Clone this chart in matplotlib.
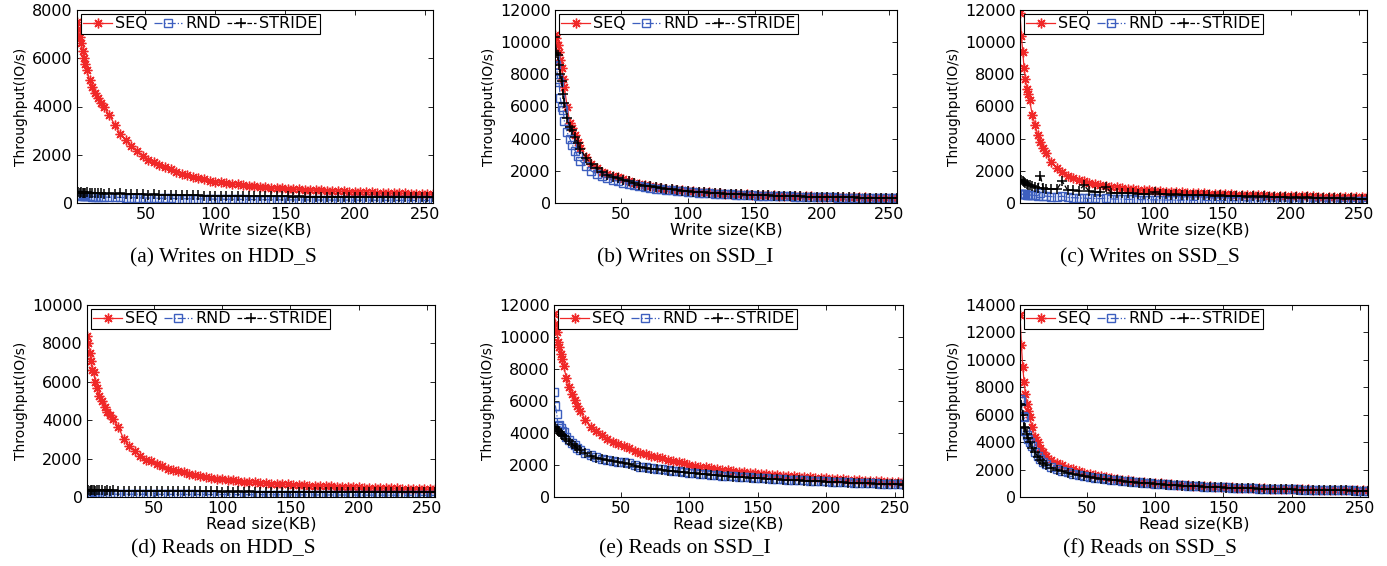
import matplotlib.pyplot as plt, numpy as np

SIZES = list(range(1, 9)) + list(range(10, 21, 2)) + list(range(24, 257, 4))

# (a) writes on HDD_S
A_SEQ = [7520, 7200, 6900, 6620, 6280, 6000, 5750, 5500,
         5100, 4800, 4550, 4350, 4150, 4000,
         3650, 3250, 2850, 2600, 2380, 2150, 1950, 1800, 1700, 1580,
         1480, 1390, 1300, 1220, 1140, 1080, 1030, 980, 920, 880,
         860, 830, 800, 770, 740, 720, 700, 680, 660, 640,
         620, 610, 595, 580, 565, 555, 545, 535, 520, 510,
         500, 490, 480, 470, 460, 452, 445, 438, 430, 422,
         415, 408, 400, 395, 388, 380, 375, 370, 365]
A_RND = [340, 325, 315, 305, 298, 292, 287, 282,
         272, 266, 261, 256, 251, 246,
         240, 235, 230, 225, 220, 215, 210, 205, 200, 196,
         192, 188, 184, 180, 176, 172, 169, 166, 163, 160,
         157, 154, 151, 148, 146, 144, 142, 140, 138, 136,
         134, 132, 130, 128, 127, 126, 125, 124, 123, 122,
         121, 120, 119, 118, 117, 116, 115, 114, 113, 112,
         111, 110, 109, 108, 107, 106, 105, 104, 103]
A_STRIDE = [420, 450, 400, 440, 410, 430, 400, 450,
            420, 410, 430, 400, 420, 390,
            410, 380, 400, 370, 390, 360, 370, 350, 360, 340,
            350, 330, 340, 320, 330, 315, 320, 305, 310, 300,
            305, 295, 300, 290, 295, 285, 290, 280, 285, 275,
            280, 270, 275, 268, 272, 265, 268, 262, 265, 258,
            262, 255, 258, 252, 255, 250, 252, 246, 250, 244,
            247, 241, 244, 238, 241, 236, 238, 233, 235]

# (b) writes on SSD_I
B_SEQ = [10450, 10250, 9800, 9400, 8900, 8400, 7700, 7200,
         6000, 5000, 4650, 4250, 3800, 3400,
         2850, 2450, 2200, 1950, 1800, 1680, 1600, 1480, 1380, 1250,
         1180, 1110, 1060, 1000, 950, 900, 860, 820, 790, 760,
         730, 700, 680, 655, 630, 610, 590, 575, 560, 545,
         530, 515, 500, 490, 480, 470, 460, 450, 440, 430,
         420, 412, 405, 398, 390, 383, 376, 370, 364, 358,
         352, 347, 342, 337, 332, 327, 322, 318, 314]
B_RND = [9000, 8600, 7700, 7500, 6500, 6000, 5800, 5100,
         4400, 4000, 3600, 3250, 2900, 2600,
         2300, 2000, 1800, 1650, 1550, 1450, 1350, 1270, 1200, 1130,
         1060, 1000, 950, 900, 860, 820, 780, 750, 720, 690,
         665, 640, 620, 600, 580, 560, 545, 530, 515, 500,
         488, 476, 464, 453, 443, 433, 423, 414, 405, 396,
         388, 380, 373, 366, 359, 352, 346, 340, 334, 328,
         323, 318, 313, 308, 303, 298, 294, 290, 286]
B_STRIDE = [10300, 9300, 9200, 8600, 8000, 7600, 6800, 6200,
            5300, 4750, 4550, 4100, 3700, 3350,
            2800, 2400, 2150, 1900, 1750, 1640, 1550, 1440, 1340, 1220,
            1150, 1080, 1030, 975, 925, 880, 840, 800, 770, 740,
            710, 685, 662, 640, 615, 596, 577, 562, 548, 533,
            518, 504, 490, 480, 470, 460, 450, 440, 431, 421,
            412, 404, 397, 390, 382, 375, 369, 363, 357, 351,
            345, 340, 335, 330, 325, 320, 316, 312, 308]

# (c) writes on SSD_S
C_SEQ = [11800, 10400, 9400, 8400, 7700, 7100, 6800, 6400,
         5500, 4850, 4250, 3800, 3450, 3100,
         2550, 2200, 1900, 1700, 1560, 1450, 1350, 1270, 1200, 1130,
         1070, 1020, 975, 935, 898, 865, 835, 808, 783, 760,
         740, 715, 695, 675, 655, 638, 622, 606, 592, 578,
         565, 553, 541, 530, 519, 509, 499, 490, 481, 472,
         464, 456, 448, 441, 434, 427, 420, 414, 408, 402,
         396, 391, 386, 381, 376, 371, 366, 362, 358]
C_RND = [560, 550, 545, 540, 530, 520, 510, 500,
         480, 470, 455, 600, 440, 425,
         400, 380, 420, 345, 330, 315, 300, 290, 280, 270,
         300, 252, 244, 236, 228, 221, 214, 208, 202, 196,
         191, 186, 181, 177, 173, 169, 165, 161, 158, 155,
         152, 149, 146, 143, 141, 139, 137, 135, 133, 131,
         129, 127, 125, 123, 121, 119, 117, 115, 113, 111,
         110, 109, 108, 107, 106, 105, 104, 103, 102]
C_STRIDE = [1450, 1400, 1350, 1300, 1250, 1200, 1150, 1120,
            1060, 1010, 960, 1700, 940, 900,
            870, 840, 1350, 800, 780, 760, 1100, 720, 700, 680,
            1000, 650, 640, 620, 610, 600, 590, 575, 565, 700,
            540, 560, 520, 540, 500, 520, 480, 500, 470, 480,
            450, 470, 430, 450, 420, 440, 400, 420, 390, 410,
            370, 400, 350, 380, 340, 360, 320, 350, 310, 330,
            290, 320, 280, 300, 260, 290, 250, 270, 240]

# (d) reads on HDD_S
D_SEQ = [8400, 8000, 7500, 7100, 6600, 6500, 6000, 5700,
         5250, 5000, 4700, 4450, 4250, 4050,
         3650, 3000, 2650, 2400, 2150, 1950, 1850, 1700, 1600, 1480,
         1400, 1330, 1280, 1200, 1140, 1100, 1050, 1000, 960, 920,
         890, 860, 830, 800, 780, 760, 740, 720, 700, 690,
         670, 655, 640, 625, 610, 598, 585, 573, 562, 551,
         540, 530, 520, 510, 500, 492, 484, 476, 468, 460,
         452, 445, 438, 431, 424, 418, 412, 406, 400]
D_RND = [200, 170, 160, 155, 155, 150, 150, 150,
         148, 148, 147, 146, 146, 145,
         145, 144, 143, 142, 141, 140, 139, 138, 137, 136,
         135, 134, 133, 132, 131, 130, 129, 128, 127, 126,
         125, 124, 123, 122, 121, 120, 119, 118, 117, 116,
         115, 114, 113, 112, 111, 110, 109, 108, 107, 106,
         105, 104, 103, 102, 101, 100, 99, 98, 97, 96,
         95, 94, 93, 92, 91, 90, 89, 88, 87]
D_STRIDE = [340, 360, 330, 350, 340, 355, 335, 350,
            340, 350, 335, 345, 330, 340,
            335, 325, 335, 320, 330, 315, 325, 310, 320, 305,
            315, 300, 310, 295, 305, 290, 300, 288, 296, 285,
            292, 282, 290, 280, 287, 277, 284, 275, 281, 272,
            279, 270, 276, 268, 274, 266, 272, 264, 270, 262,
            268, 260, 266, 258, 264, 256, 262, 255, 260, 253,
            258, 251, 256, 250, 254, 248, 252, 246, 250]

# (e) reads on SSD_I
E_SEQ = [11450, 10800, 10300, 9700, 9350, 8950, 8600, 8200,
         7450, 6900, 6450, 6050, 5700, 5400,
         4800, 4400, 4100, 3850, 3650, 3450, 3300, 3180, 3060, 2900,
         2780, 2680, 2590, 2500, 2420, 2340, 2260, 2190, 2120, 2020,
         1960, 1900, 1850, 1800, 1750, 1710, 1670, 1630, 1590, 1550,
         1515, 1480, 1450, 1420, 1390, 1360, 1335, 1310, 1285, 1260,
         1240, 1220, 1200, 1180, 1160, 1140, 1120, 1100, 1080, 1060,
         1040, 1020, 1000, 985, 970, 955, 940, 925, 910]
E_RND = [6550, 5700, 5200, 4450, 4500, 4300, 4150, 4050,
         3750, 3550, 3370, 3220, 3080, 2950,
         2750, 2600, 2490, 2400, 2320, 2260, 2210, 2160, 2110, 1980,
         1900, 1850, 1800, 1760, 1720, 1680, 1640, 1600, 1560, 1520,
         1490, 1460, 1430, 1400, 1370, 1340, 1310, 1290, 1270, 1250,
         1230, 1210, 1190, 1170, 1150, 1130, 1110, 1090, 1070, 1050,
         1035, 1020, 1005, 990, 975, 960, 945, 930, 915, 900,
         888, 876, 864, 852, 840, 828, 816, 804, 792]
E_STRIDE = [4400, 4350, 4250, 4150, 4050, 3950, 3880, 3800,
            3650, 3480, 3330, 3180, 3040, 2920,
            2720, 2570, 2460, 2370, 2290, 2230, 2180, 2130, 2080, 1940,
            1870, 1820, 1775, 1735, 1695, 1655, 1615, 1575, 1540, 1500,
            1470, 1440, 1410, 1380, 1350, 1320, 1295, 1270, 1250, 1230,
            1210, 1190, 1170, 1150, 1130, 1110, 1090, 1072, 1054, 1036,
            1020, 1005, 990, 975, 960, 945, 930, 915, 900, 886,
            873, 860, 848, 836, 824, 812, 800, 788, 776]

# (f) reads on SSD_S
F_SEQ = [13300, 11100, 9500, 8400, 7500, 6800, 6300, 5800,
         5100, 4400, 4000, 3550, 3250, 3000,
         2700, 2450, 2300, 2150, 2020, 1900, 1780, 1680, 1600, 1520,
         1450, 1390, 1330, 1270, 1220, 1170, 1130, 1090, 1050, 1020,
         985, 955, 925, 900, 875, 850, 830, 810, 790, 770,
         752, 735, 720, 705, 690, 676, 663, 650, 638, 626,
         615, 604, 594, 584, 575, 566, 557, 549, 541, 533,
         526, 519, 512, 505, 499, 493, 487, 481, 475]
F_RND = [7150, 7000, 5900, 5800, 4800, 4500, 4200, 4000,
         3700, 3300, 3000, 2750, 2550, 2400,
         2200, 2050, 1920, 1800, 1700, 1620, 1550, 1480, 1420, 1370,
         1320, 1270, 1230, 1190, 1150, 1110, 1075, 1040, 1010, 980,
         950, 922, 895, 870, 846, 823, 802, 782, 763, 745,
         728, 712, 697, 683, 669, 656, 643, 631, 619, 608,
         597, 587, 577, 568, 559, 550, 542, 534, 526, 518,
         511, 504, 497, 490, 484, 478, 472, 466, 460]
F_STRIDE = [6800, 6700, 6000, 5100, 5000, 4600, 4300, 4000,
            3600, 3250, 2950, 2700, 2500, 2350,
            2150, 2000, 1880, 1770, 1670, 1590, 1520, 1455, 1395, 1345,
            1295, 1250, 1210, 1170, 1130, 1092, 1057, 1024, 994, 965,
            937, 910, 884, 859, 836, 814, 793, 773, 754, 736,
            719, 703, 688, 674, 660, 647, 635, 623, 611, 600,
            589, 579, 569, 560, 551, 542, 534, 526, 518, 511,
            504, 497, 490, 484, 478, 472, 466, 460, 454]

CAPTIONS = ["(a) Writes on HDD_S", "(b) Writes on SSD_I", "(c) Writes on SSD_S",
            "(d) Reads on HDD_S", "(e) Reads on SSD_I", "(f) Reads on SSD_S"]
XLABELS = ["Write size(KB)"] * 3 + ["Read size(KB)"] * 3
YTOPS = [8000, 12000, 12000, 10000, 12000, 14000]
SERIES = [(A_SEQ, A_RND, A_STRIDE), (B_SEQ, B_RND, B_STRIDE), (C_SEQ, C_RND, C_STRIDE),
          (D_SEQ, D_RND, D_STRIDE), (E_SEQ, E_RND, E_STRIDE), (F_SEQ, F_RND, F_STRIDE)]

# layout in pixels: left, right, top, bottom of each axes; caption centre
W, H = 1387, 566
BOXES = [(77, 433, 10, 203), (555, 897, 10, 203), (1020, 1367, 10, 203),
         (87, 435, 305, 497), (554, 903, 305, 497), (1020, 1368, 305, 497)]
CAP_POS = [(223, 258), (685, 258), (1150, 258), (223, 549), (685, 549), (1150, 549)]

RED, BLUE = '#f02828', '#3d5fbf'


def panel(fig, box, cap_pos, caption, xlabel, ytop, seq, rnd, stride):
    l, r, t, b = box
    ax = fig.add_axes([l / W, 1 - b / H, (r - l) / W, (b - t) / H])
    ax.plot(SIZES, seq, color=RED, ls='-', lw=0.9, marker=(8, 2, 0), ms=7, mew=1.0, label='SEQ')
    ax.plot(SIZES, rnd, color=BLUE, ls='-.', lw=0.9, marker='s', ms=6, mfc='none', mew=1.0, label='RND')
    ax.plot(SIZES, stride, color='black', ls='--', lw=0.9, marker='+', ms=7.5, mew=1.1, label='STRIDE')
    ax.set_xlim(1, 256)
    ax.set_ylim(0, ytop)
    ax.set_xticks([50, 100, 150, 200, 250])
    ax.set_yticks(np.arange(0, ytop + 1, 2000))
    ax.tick_params(direction='in', top=True, right=True, length=3.5, width=0.6, labelsize=11.5, pad=3)
    for s in ax.spines.values():
        s.set_linewidth(0.8)
    ax.set_xlabel(xlabel, fontsize=11.5, labelpad=0)
    ax.set_ylabel("Throughput(IO/s)", fontsize=10, labelpad=3)
    leg = ax.legend(loc='upper left', ncol=3, fontsize=11.5, handlelength=1.8, handletextpad=0.2,
                    columnspacing=0.35, borderpad=0.15, borderaxespad=0.25, fancybox=False,
                    edgecolor='black', framealpha=1, numpoints=1)
    leg.get_frame().set_linewidth(0.8)
    fig.text(cap_pos[0] / W, 1 - cap_pos[1] / H, caption, ha='center', va='center',
             family='Liberation Serif', fontsize=15.5)
    return ax


def main():
    fig = plt.figure(figsize=(W / 100, H / 100), dpi=100)
    for i in range(6):
        seq, rnd, stride = SERIES[i]
        panel(fig, BOXES[i], CAP_POS[i], CAPTIONS[i], XLABELS[i], YTOPS[i], seq, rnd, stride)
    fig.savefig("out.png", dpi=100)
    return


if __name__ == "__main__":
    main()
